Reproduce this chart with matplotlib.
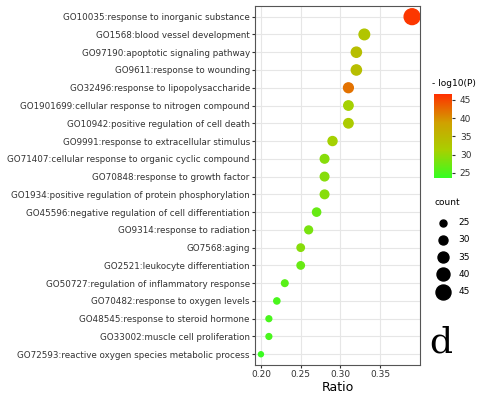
import matplotlib
matplotlib.use("Agg")
import matplotlib.pyplot as plt
import numpy as np
from matplotlib.colors import LinearSegmentedColormap, Normalize
from matplotlib.lines import Line2D

terms = ["GO10035:response to inorganic substance","GO1568:blood vessel development",
"GO97190:apoptotic signaling pathway","GO9611:response to wounding",
"GO32496:response to lipopolysaccharide","GO1901699:cellular response to nitrogen compound",
"GO10942:positive regulation of cell death","GO9991:response to extracellular stimulus",
"GO71407:cellular response to organic cyclic compound","GO70848:response to growth factor",
"GO1934:positive regulation of protein phosphorylation","GO45596:negative regulation of cell differentiation",
"GO9314:response to radiation","GO7568:aging","GO2521:leukocyte differentiation",
"GO50727:regulation of inflammatory response","GO70482:response to oxygen levels",
"GO48545:response to steroid hormone","GO33002:muscle cell proliferation",
"GO72593:reactive oxygen species metabolic process"]
ratio = [0.39,0.33,0.32,0.32,0.31,0.31,0.31,0.29,0.28,0.28,0.28,0.27,0.26,0.25,0.25,0.23,0.22,0.21,0.21,0.20]
count = [47,34,33,33,32,31,31,30,29,29,29,28,27,26,26,24,23,22,22,20]
logp = [46,33,34,34,42,31,32,31,29,29,29,27,28,29,27,26,25,25,25,24]

cmap = LinearSegmentedColormap.from_list("g", ["#33FF22","#A8D000","#D0A000","#FF3000"])
norm = Normalize(23.5, 46.5)
def sz(c):
    d = 7 + (np.asarray(c) - 25) * 8 / 20.0
    d = np.maximum(d, 3)
    return (d * 0.72) ** 2

fig = plt.figure(figsize=(4.8, 4.01), dpi=100)
ax = fig.add_axes([0.532, 0.09, 0.343, 0.895])
y = np.arange(len(terms))[::-1]
ax.scatter(ratio, y, s=sz(count), c=logp, cmap=cmap, norm=norm, zorder=3)
ax.set_yticks(y)
ax.set_yticklabels(terms, fontsize=6.3)
ax.set_ylim(-0.6, len(terms) - 0.4)
ax.set_xlim(0.193, 0.40)
ax.set_xticks([0.20, 0.25, 0.30, 0.35])
ax.set_xticklabels(["0.20","0.25","0.30","0.35"], fontsize=6.5)
ax.set_xlabel("Ratio", fontsize=9, labelpad=1)
ax.grid(True, color="#e6e6e6", lw=0.8, zorder=0)
ax.set_axisbelow(True)
for s in ax.spines.values():
    s.set_color("#555555"); s.set_linewidth(0.8)
ax.tick_params(length=2, pad=2, colors="#333333")

cax = fig.add_axes([0.905, 0.555, 0.037, 0.21])
sm = plt.cm.ScalarMappable(norm=norm, cmap=cmap)
cb = fig.colorbar(sm, cax=cax, ticks=[25,30,35,40,45])
cb.outline.set_visible(False)
cb.ax.tick_params(labelsize=6.5, length=2, colors="#333333")
fig.text(0.9, 0.785, "- log10(P)", fontsize=6.5)

fig.text(0.905, 0.49, "count", fontsize=6.5)
lc = [25,30,35,40,45]
for i, c in enumerate(lc):
    yy = 0.445 - i * 0.043
    fig.add_artist(Line2D([0.922],[yy], marker="o", color="black", ls="none",
                          markersize=np.sqrt(sz(c)), transform=fig.transFigure))
    fig.text(0.955, yy, str(c), fontsize=6.5, va="center")

fig.text(0.895, 0.12, "d", fontsize=26, family="DejaVu Serif")
fig.savefig("out.png", dpi=100)
